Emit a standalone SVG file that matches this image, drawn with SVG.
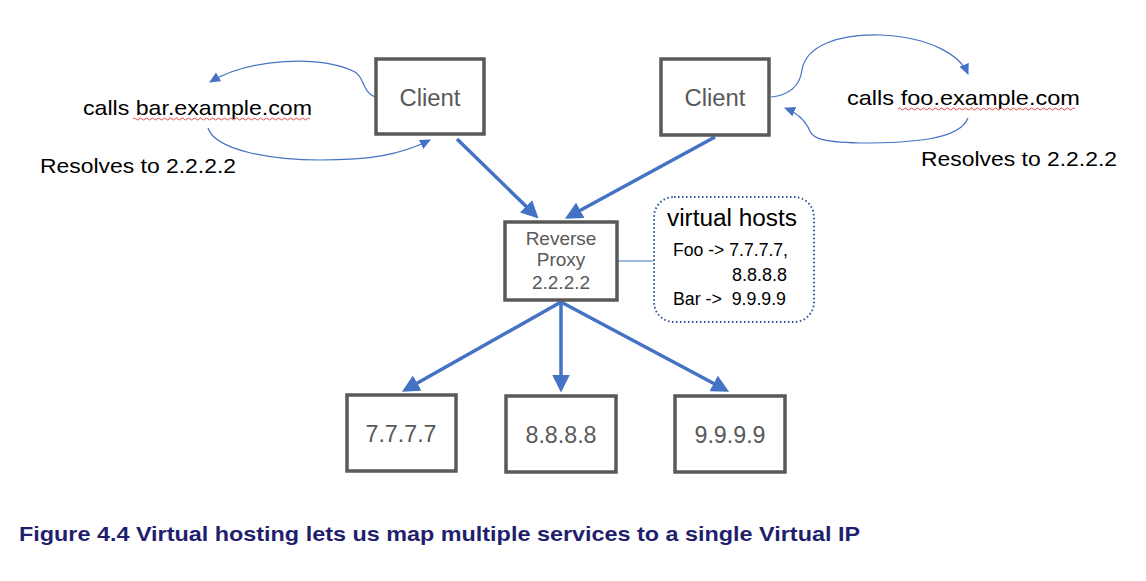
<svg xmlns="http://www.w3.org/2000/svg" width="1146" height="581" viewBox="0 0 1146 581">
<defs>
<style>
.box{fill:#fff;stroke:#595959;stroke-width:3.5}
.nt{font-family:"Liberation Sans",Arial,sans-serif;fill:#595959;text-anchor:middle}
.lbl{font-family:"Liberation Sans",Arial,sans-serif;fill:#000}
.thick{stroke:#4472C4;stroke-width:3.5;fill:none}
.thin{stroke:#4472C4;stroke-width:1.2;fill:none}
.sq{stroke:#e02020;stroke-width:0.8;fill:none}
</style>
<marker id="ah" markerWidth="5" markerHeight="5" refX="4" refY="2.5" orient="auto" markerUnits="strokeWidth">
<path d="M0,0 L5,2.5 L0,5 z" fill="#4472C4"/>
</marker>
<marker id="as" markerWidth="12" markerHeight="12" refX="10" refY="6" orient="auto" markerUnits="userSpaceOnUse">
<path d="M0,1 L11,6 L0,11 z" fill="#4472C4"/>
</marker>
</defs>
<rect width="1146" height="581" fill="#fff"/>
<g id="connectors">
<line class="thick" x1="457" y1="139" x2="536" y2="216" marker-end="url(#ah)"/>
<line class="thick" x1="715" y1="137" x2="568" y2="217" marker-end="url(#ah)"/>
<line class="thick" x1="561" y1="302" x2="405" y2="390" marker-end="url(#ah)"/>
<line class="thick" x1="561" y1="302" x2="561" y2="389" marker-end="url(#ah)"/>
<line class="thick" x1="561" y1="302" x2="726" y2="390" marker-end="url(#ah)"/>
<line class="thin" x1="617" y1="261" x2="653" y2="261"/>
<path class="thin" d="M375,97 C362,92 365,78 355,72 C320,55 250,58 210,82" marker-end="url(#as)"/>
<path class="thin" d="M208,128 C215,150 270,160 320,160 C370,160 400,155 430,140" marker-end="url(#as)"/>
<path class="thin" d="M771,97 C790,95 800,85 802,70 C806,45 840,34 880,35 C930,37 960,55 968,74" marker-end="url(#as)"/>
<path class="thin" d="M968,118 C960,140 910,143 860,143 C810,142 812,135 808,127 C803,118 795,112 785,108" marker-end="url(#as)"/>
</g>
<g id="client-left">
<rect class="box" x="376" y="59" width="108" height="75"/>
<text class="nt" x="430" y="106" font-size="23" textLength="61" lengthAdjust="spacingAndGlyphs">Client</text>
</g>
<g id="client-right">
<rect class="box" x="661" y="59" width="108" height="76"/>
<text class="nt" x="715" y="106" font-size="23" textLength="61" lengthAdjust="spacingAndGlyphs">Client</text>
</g>
<g id="proxy">
<rect class="box" x="505" y="222" width="112" height="78"/>
<text class="nt" x="561" y="245" font-size="19">Reverse</text>
<text class="nt" x="561" y="266" font-size="19">Proxy</text>
<text class="nt" x="561" y="289" font-size="19">2.2.2.2</text>
</g>
<g id="vhosts">
<rect x="654" y="197" width="160" height="125" rx="20" ry="20" fill="#fff" stroke="#2F5597" stroke-width="2" stroke-dasharray="1.5 2.5"/>
<text class="lbl" x="667" y="226" font-size="23" textLength="130" lengthAdjust="spacingAndGlyphs">virtual hosts</text>
<text class="lbl" x="673" y="256" font-size="18" textLength="115" lengthAdjust="spacingAndGlyphs">Foo -&gt; 7.7.7.7,</text>
<text class="lbl" x="732" y="281" font-size="18" textLength="55" lengthAdjust="spacingAndGlyphs">8.8.8.8</text>
<text class="lbl" x="673" y="305" font-size="18" xml:space="preserve" textLength="113" lengthAdjust="spacingAndGlyphs">Bar -&gt;  9.9.9.9</text>
</g>
<g id="host-7">
<rect class="box" x="347" y="395" width="109" height="76"/>
<text class="nt" x="401" y="442" font-size="23" textLength="71" lengthAdjust="spacingAndGlyphs">7.7.7.7</text>
</g>
<g id="host-8">
<rect class="box" x="506" y="396" width="110" height="76"/>
<text class="nt" x="561" y="443" font-size="23" textLength="71" lengthAdjust="spacingAndGlyphs">8.8.8.8</text>
</g>
<g id="host-9">
<rect class="box" x="675" y="396" width="110" height="76"/>
<text class="nt" x="730" y="443" font-size="23" textLength="71" lengthAdjust="spacingAndGlyphs">9.9.9.9</text>
</g>
<g id="labels">
<text class="lbl" x="83" y="115" font-size="21" textLength="229" lengthAdjust="spacingAndGlyphs">calls bar.example.com</text>
<path class="sq" d="M133,119 q1.5,-2 3,0 t3,0 t3,0 t3,0 t3,0 t3,0 t3,0 t3,0 t3,0 t3,0 t3,0 t3,0 t3,0 t3,0 t3,0 t3,0 t3,0 t3,0 t3,0 t3,0 t3,0 t3,0 t3,0 t3,0 t3,0 t3,0 t3,0 t3,0 t3,0 t3,0 t3,0 t3,0 t3,0 t3,0 t3,0 t3,0 t3,0 t3,0 t3,0 t3,0 t3,0 t3,0 t3,0 t3,0 t3,0 t3,0 t3,0 t3,0 t3,0 t3,0 t3,0 t3,0 t3,0 t3,0 t3,0 t3,0 t3,0 t3,0 t3,0"/>
<text class="lbl" x="40" y="173" font-size="21" textLength="196" lengthAdjust="spacingAndGlyphs">Resolves to 2.2.2.2</text>
<text class="lbl" x="847" y="105" font-size="21" textLength="233" lengthAdjust="spacingAndGlyphs">calls foo.example.com</text>
<path class="sq" d="M898,109 q1.5,-2 3,0 t3,0 t3,0 t3,0 t3,0 t3,0 t3,0 t3,0 t3,0 t3,0 t3,0 t3,0 t3,0 t3,0 t3,0 t3,0 t3,0 t3,0 t3,0 t3,0 t3,0 t3,0 t3,0 t3,0 t3,0 t3,0 t3,0 t3,0 t3,0 t3,0 t3,0 t3,0 t3,0 t3,0 t3,0 t3,0 t3,0 t3,0 t3,0 t3,0 t3,0 t3,0 t3,0 t3,0 t3,0 t3,0 t3,0 t3,0 t3,0 t3,0 t3,0 t3,0 t3,0 t3,0 t3,0 t3,0 t3,0 t3,0 t3,0"/>
<text class="lbl" x="921" y="166" font-size="21" textLength="196" lengthAdjust="spacingAndGlyphs">Resolves to 2.2.2.2</text>
<text x="19" y="541" font-family="'Liberation Sans',Arial,sans-serif" font-weight="bold" font-size="21" fill="#1F1F6E" textLength="841" lengthAdjust="spacingAndGlyphs">Figure 4.4 Virtual hosting lets us map multiple services to a single Virtual IP</text>
</g>
</svg>
